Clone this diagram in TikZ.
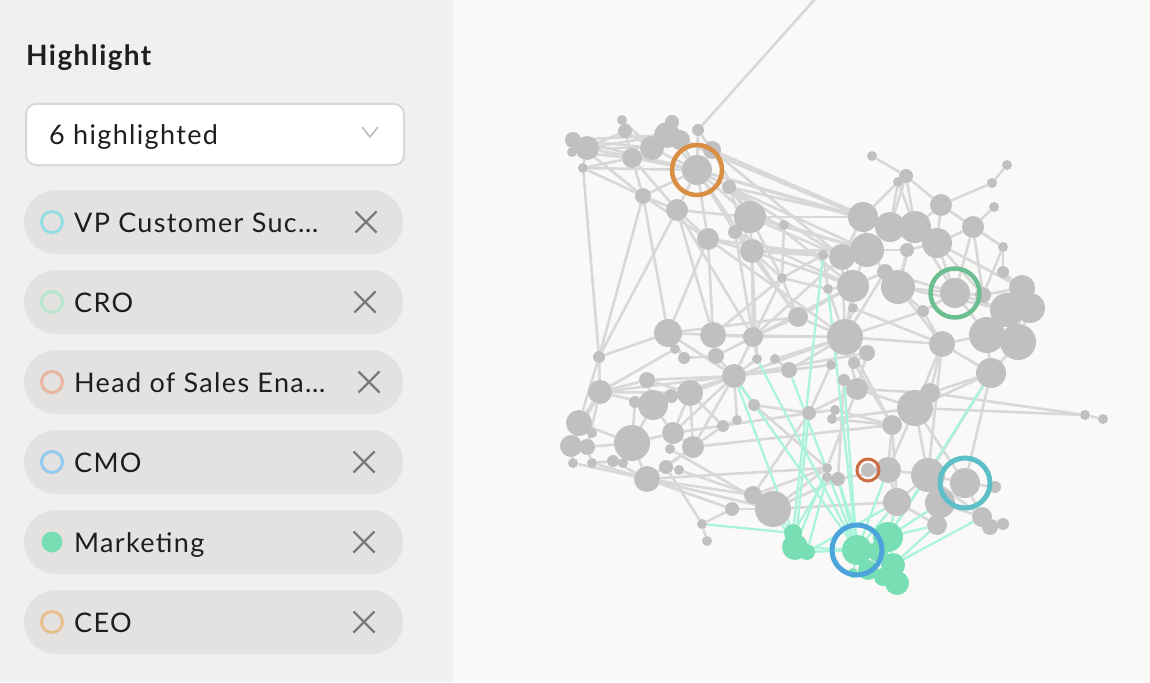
\documentclass[tikz,border=0pt]{standalone}
\usepackage{fontspec}
\setmainfont{Lato}[LetterSpace=5]
\pgfdeclarelayer{back}
\pgfdeclarelayer{edges}
\pgfdeclarelayer{tedges}
\pgfdeclarelayer{front}
\pgfsetlayers{back,edges,tedges,main,front}
\definecolor{panelbg}{HTML}{F1F0EE}
\definecolor{graphbg}{HTML}{FAF9F8}
\definecolor{chipbg}{HTML}{E3E2E0}
\definecolor{ddborder}{HTML}{D8D8D8}
\definecolor{txt}{HTML}{1E1E1E}
\definecolor{xgray}{HTML}{7A7A7A}
\definecolor{chevc}{HTML}{BDBDBD}
\definecolor{lgVP}{HTML}{93DDE3}
\definecolor{lgCRO}{HTML}{B7E6D0}
\definecolor{lgHead}{HTML}{EAB59E}
\definecolor{lgCMO}{HTML}{92CBEE}
\definecolor{lgMk}{HTML}{78DFB4}
\definecolor{lgCEO}{HTML}{E8C08F}
\definecolor{nodegray}{HTML}{C0C0C0}
\definecolor{edgegray}{HTML}{D8D8D8}
\definecolor{tealedge}{HTML}{ABF4DC}
\definecolor{rCEO}{HTML}{D88E43}
\definecolor{rCRO}{HTML}{6BBE8F}
\definecolor{rVP}{HTML}{5DBFC7}
\definecolor{rCMO}{HTML}{4DA3DB}
\definecolor{rHead}{HTML}{CC6D45}
\tikzset{
  chip/.style={fill=chipbg, rounded corners=32pt, minimum width=379pt, minimum height=64pt, inner sep=0pt},
  dot/.style={circle, line width=3pt, minimum size=21pt, inner sep=0pt},
  chiptext/.style={anchor=base west, inner sep=0pt, text=txt, font=\fontsize{27}{31}\selectfont},
  xmark/.style={draw=xgray, line width=2.4pt},
  gnode/.style={circle, fill=nodegray, inner sep=0pt},
  mknode/.style={circle, fill=lgMk, inner sep=0pt},
  gedge/.style={draw=edgegray, line width=2.6pt},
  tedge/.style={draw=tealedge, line width=2.3pt},
  ring/.style={circle, inner sep=0pt, fill=none}
}
\newcommand{\mychip}[5]{%
  \node[chip] (#2) at (213.5,#1) {};
  \node[dot,#4] (#2dot) at (52,#1) {};
  \node[chiptext] (#2txt) at (74,{#1+10}) {#3};
  \draw[xmark] (#5-10.5,{#1-10.5}) -- (#5+10.5,{#1+10.5});
  \draw[xmark] (#5-10.5,{#1+10.5}) -- (#5+10.5,{#1-10.5});
}
\begin{document}
\begin{tikzpicture}[x=1pt,y=-1pt]
\useasboundingbox (0,0) rectangle (1150,682);
\begin{pgfonlayer}{back}
\fill[graphbg] (0,0) rectangle (1150,682);
\fill[panelbg] (0,0) rectangle (453,682);
\end{pgfonlayer}
% ---------- left panel ----------
\node[anchor=base west, inner sep=0pt, text=txt, font=\bfseries\fontsize{28}{32}\selectfont] (title) at (26,66) {Highlight};
\node[draw=ddborder, line width=2pt, fill=white, rounded corners=10pt, minimum width=378pt, minimum height=61pt, anchor=north west, inner sep=0pt] (dd) at (25,103) {};
\node[chiptext] (ddtext) at (49,144) {6 highlighted};
\draw[draw=chevc, line width=1.6pt] (362,127) -- (370,137) -- (378,127);
\mychip{222}{c1chip}{VP Customer Suc…}{draw=lgVP}{366}
\mychip{302}{c2chip}{CRO}{draw=lgCRO}{365}
\mychip{382}{c3chip}{Head of Sales Ena…}{draw=lgHead}{369}
\mychip{462}{c4chip}{CMO}{draw=lgCMO}{364}
\mychip{542}{c5chip}{Marketing}{fill=lgMk}{364}
\mychip{622}{c6chip}{CEO}{draw=lgCEO}{364}
% ---------- graph nodes ----------
\foreach \n/\x/\y/\rr in {
t1/573/140/8, t2/572/152/5, t3/587/148/12, t4/583/168/5, t5/622/120/5, t6/625/131/7, t7/632/158/10, t8/652/148/12, t9/667/135/13, t10/672/122/7, t11/680/140/10, t12/698/130/6, t13/712/150/9, t14/697/170/15, t15/729/187/7, t16/643/196/8, t17/677/210/11, t18/750/217/16, t19/784/225/5, t20/735/232/7, t21/708/239/11, t22/752/251/12,
u1/872/156/5, u2/906/176/7, u3/898/182/5, u4/1007/165/5, u5/992/183/5, u6/994/207/5, u7/941/205/11, u8/973/227/11, u9/863/217/15, u10/890/227/15, u11/915/227/16, u12/937/243/15, u13/867/250/17, u14/842/257/13, u15/907/250/7, u16/823/255/5, u17/1003/247/5, u18/1003/272/6, u19/853/286/16, u20/898/287/17, u21/885/272/8, u22/955/293/15, u23/983/295/8, u24/1022/288/13, u25/1030/308/15, u26/1007/310/17, u27/987/335/18, u28/1018/342/18, u29/923/311/6, u30/853/308/5, u31/828/289/5, u32/845/337/18, u33/867/353/8, u34/854/363/6, u35/831/365/5, u36/942/344/13, u37/991/373/15, u38/844/380/6, u39/857/389/11,
c1/782/278/5,
m1/599/357/6, m2/668/333/14, m3/675/349/5, m4/684/358/6, m5/713/335/13, m6/716/356/8, m7/753/337/10, m8/757/359/5, m9/775/359/5, m10/789/370/8, m11/798/317/10, m13/734/376/12, m14/600/392/12, m15/647/380/8, m16/653/405/15, m17/635/402/6, m18/671/396/7, m19/690/393/13, m20/754/405/6, m21/809/413/7, m22/835/410/5, m23/832/419/5, m24/579/423/13, m25/592/433/5, m26/571/446/11, m27/587/447/8, m28/573/463/5, m29/592/463/5, m30/613/461/6, m31/623/463/5, m32/632/443/18, m33/673/433/11, m34/670/449/5, m35/693/447/11, m36/666/467/7, m37/679/470/5, m38/723/426/6, m39/737/420/5, m40/647/479/13, m41/753/495/9, m42/773/509/18, m43/732/509/7, m44/702/524/5, m45/707/541/5,
l1/915/408/18, l2/930/393/10, l3/892/425/10, l4/827/468/5, l5/827/477/5, l6/838/479/7, l7/868/470/7, l8/888/470/13, l9/928/475/17, l10/965/483/15, l11/995/487/6, l12/897/502/14, l13/940/503/15, l14/982/517/10, l15/990/527/8, l16/1003/524/6, l17/937/525/10, l18/1085/415/5, l19/1103/419/5}
  \node[gnode, minimum size=2*\rr pt] (\n) at (\x,\y) {};
\foreach \n/\x/\y/\rr in {g1/793/533/9, g2/795/547/13, g3/807/552/8, g4/857/550/15, g5/888/537/15, g6/893/565/12, g7/897/583/12, g8/883/577/9, g9/868/570/10, g10/853/573/5, g11/878/552/10}
  \node[mknode, minimum size=2*\rr pt] (\n) at (\x,\y) {};
\coordinate (topend) at (816,-2);
% ---------- gray edges ----------
\begin{pgfonlayer}{edges}
\foreach \a/\b in {
t1/t3, t2/t3, t1/t2, t3/t4, t3/t6, t3/t7, t3/t8, t1/t8, t2/t7, t4/t7, t4/t16, t3/t9, t1/t9, t5/t6, t6/t7, t6/t8, t5/t8, t7/t8, t8/t9, t9/t10, t9/t11, t10/t11, t8/t14, t9/t14, t11/t14, t12/t14, t13/t14, t11/t13, t12/t13, t7/t14, t3/t14, t1/t14, t4/t14, t14/t15, t14/t16, t16/t17, t7/t17, t14/t17, t14/t18, t14/t20, t14/t21, t15/t18, t15/t22, t13/t18, t14/t22, t17/t18, t12/topend, t18/t19, t18/t20, t20/t22, t21/t22, t18/u9, t15/u9, t14/u10, t13/u9, t18/u14, t19/u13, t22/u14, t22/u16, t15/u19, t22/m7, t21/m5, t21/m2, t17/m5, t17/m1, t16/m1, t4/m1, t16/m2, t20/m11, t22/m11, t19/c1, t18/c1, t22/c1, t20/m7, t17/m7, t21/u32, t22/u19, t18/m8, t17/t21, t16/t21, t7/t16, t1/t16,
t13/u10, t15/u13, t18/u13, t13/u14, t15/u14, t22/u13, t20/u19, t21/u14, t11/u9, t14/u9,
u1/u2, u2/u3, u3/u9, u2/u10, u3/u10, u2/u11, u2/u7, u3/u11, u4/u5, u5/u7, u6/u8, u7/u8, u7/u11, u7/u12, u8/u12, u8/u17, u17/u18, u17/u23, u18/u24, u18/u25, u8/u22, u9/u10, u10/u11, u11/u12, u9/u13, u10/u13, u13/u14, u14/u16, u13/u15, u12/u15, u12/u22, u11/u20, u13/u19, u13/u20, u19/u21, u20/u21, u20/u22, u22/u23, u23/u24, u24/u26, u25/u26, u26/u27, u27/u28, u25/u28, u22/u26, u22/u27, u22/u29, u20/u29, u19/u30, u19/u31, u30/u32, u19/u32, u29/u32, u32/u33, u33/u34, u32/u35, u29/u36, u36/u27, u36/u37, u27/u37, u28/u37, u32/u36, u32/u39, u33/u39, u36/l1, u36/l2, u37/l2, u37/l1, u14/u19, u16/u31, u31/u32, u14/u32, u9/u14, u21/u22, u15/u20, u12/u23, u12/u24, u11/u22, u20/u36, u20/u26, u21/u32, u30/u36, u24/u28, u7/u17, u8/u23,
m1/m14, m1/m2, m2/m3, m2/m4, m2/m5, m5/m6, m4/m6, m3/m14, m2/m13, m5/m7, m6/m13, m7/m8, m7/m11, m8/m13, m9/m10, m10/m13, m11/u32, m11/u19, m11/c1, c1/u16, c1/m13, c1/u31, m7/u32, m5/u32, m7/u14, m10/u32, m13/m14, m14/m24, m14/m16, m14/m15, m15/m16, m15/m19, m16/m17, m16/m18, m16/m19, m18/m19, m19/m13, m19/m33, m19/m35, m14/m26, m14/m27, m24/m25, m24/m26, m25/m27, m26/m27, m26/m28, m27/m29, m24/m32, m27/m32, m29/m30, m30/m31, m31/m32, m28/m40, m29/m40, m30/m40, m32/m33, m32/m16, m32/m40, m33/m34, m33/m35, m35/m36, m36/m37, m35/m40, m37/m41, m40/m42, m40/m41, m34/m42, m38/m39, m38/m35, m39/m13, m13/m20, m20/m21, m21/m22, m21/u39, m22/m23, m23/l3, m21/m41, m13/m35, m13/m33, m19/m38, m14/m19, m16/m33, m41/m42, m42/m43, m43/m44, m44/m45, m42/l4, m42/l6, m42/l12, m41/l4, m36/m44, m40/m43, m17/m32, m15/m13, m18/m13, m24/m1, m19/u32, m35/l3, m16/m13, m33/m21, m40/l4, m9/u32, m10/u35, m13/u33, m6/u19, m2/m11, m5/c1,
l1/l2, l1/l3, l2/u39, l3/l8, l1/l9, l1/l8, l9/l10, l8/l9, l4/l5, l5/l6, l6/l8, l7/l8, l8/l12, l9/l12, l9/l13, l10/l11, l10/l13, l13/l14, l14/l15, l15/l16, l13/l17, l12/l17, l9/l14, l10/l14, l14/l16, l1/l18, l2/l18, l18/l19, u37/l10, u37/l9, u39/l1, u36/l9, u38/l6, u39/l4, m23/l1, m22/l3, l3/l12, u34/l3, u35/m21, u32/l3, m20/l4, l1/l10}
  \draw[gedge] (\a) -- (\b);
\end{pgfonlayer}
% ---------- teal edges ----------
\begin{pgfonlayer}{tedges}
\foreach \a/\b in {
g1/g2, g2/g3, g1/g3, g4/g5, g4/g9, g5/g6, g6/g7, g7/g8, g8/g9, g9/g10, g4/g10, g5/g9, g2/g4, g3/g4, g4/g11, g5/g11,
g1/m13, g4/m8, g1/u16, g4/u31, g4/m13, g4/m10, g4/u38, g5/u37, g5/l13, g5/l17, g6/l17, g5/l12, g4/l12, g4/l8, g9/l6, g4/l6, g2/l4, g1/l5, g2/m42, g1/m42, g1/m44, g3/l5, g2/m21, g11/l9, g6/l14, g3/l12}
  \draw[tedge] (\a) -- (\b);
\end{pgfonlayer}
% ---------- highlight rings ----------
\begin{pgfonlayer}{front}
\node[ring, draw=rCEO, line width=4.5pt, minimum size=50pt] (ringCEO) at (t14) {};
\node[ring, draw=rCRO, line width=4.5pt, minimum size=49pt] (ringCRO) at (u22) {};
\node[ring, draw=rVP, line width=5pt, minimum size=50pt] (ringVP) at (l10) {};
\node[ring, draw=rCMO, line width=5pt, minimum size=50pt] (ringCMO) at (g4) {};
\node[ring, draw=rHead, line width=3pt, minimum size=22pt] (ringHead) at (l7) {};
\end{pgfonlayer}
\end{tikzpicture}
\end{document}
